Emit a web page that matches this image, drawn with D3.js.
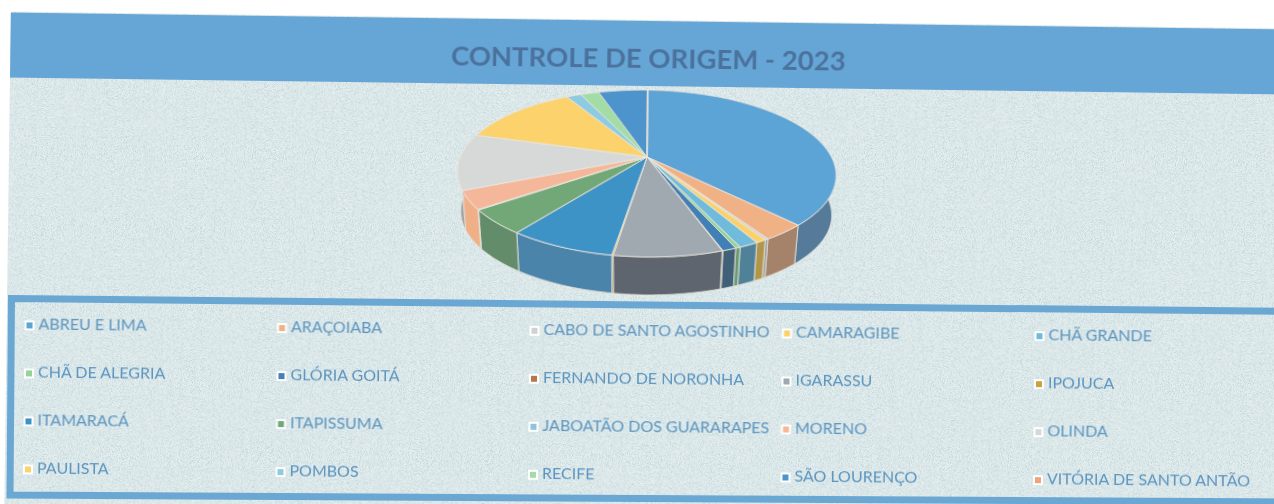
<!DOCTYPE html>
<html><head><meta charset="utf-8">
<script src="https://cdn.jsdelivr.net/npm/d3@7/dist/d3.min.js"></script>
<style>html,body{margin:0;padding:0;background:#fff;overflow:hidden}svg{display:block}</style>
</head><body><div id="chart"></div>
<script>
const titleText = "CONTROLE DE ORIGEM - 2023";
const categories = ["ABREU E LIMA","ARAÇOIABA","CABO DE SANTO AGOSTINHO","CAMARAGIBE","CHÃ GRANDE","CHÃ DE ALEGRIA","GLÓRIA GOITÁ","FERNANDO DE NORONHA","IGARASSU","IPOJUCA","ITAMARACÁ","ITAPISSUMA","JABOATÃO DOS GUARARAPES","MORENO","OLINDA","PAULISTA","POMBOS","RECIFE","SÃO LOURENÇO","VITÓRIA DE SANTO ANTÃO"];
const values = [37.6,3.2,0.25,0.75,1.4,0.35,1.0,0.05,7.7,0.1,7.6,4.7,0.1,3.5,10.9,12.4,1.5,1.9,5.05,0.05];
const colors = ["#5ca4d6","#f0b185","#cfd2d2","#fbd168","#6fbbdc","#94d49a","#3f80b5","#b7774e","#a0a8b0","#c9a43c","#3d92c6","#72a878","#8cc2e2","#f5b79a","#d7d9d8","#fbd26c","#8ccbe0","#a3dca4","#4e94cc","#e9a67a"];
const wallColors = ["#557a9a","#a5826a","#9a9c9c","#b3954a","#4f8299","#6a9a70","#3f6078","#8a5a3a","#5f656e","#9a7e30","#4b84ab","#648c6a","#6a92aa","#efb088","#a2a4a3","#bd9e52","#6a99a8","#7aa67c","#3a6f99","#ae7d5c"];
const legendColumns = 5;

const W=1274,H=504, cx=647, cy=157, tilt=0.76;
const svg=d3.select("#chart").append("svg").attr("width",W).attr("height",H);
const defs=svg.append("defs");
const blur=defs.append("filter").attr("id","soft").attr("x","-2%").attr("y","-2%").attr("width","104%").attr("height","104%");
blur.append("feGaussianBlur").attr("stdDeviation",0.6);
const noise=defs.append("filter").attr("id","grain").attr("x",0).attr("y",0).attr("width","100%").attr("height","100%");
noise.append("feTurbulence").attr("type","fractalNoise").attr("baseFrequency",1.1).attr("numOctaves",2).attr("seed",4).attr("result","n");
noise.append("feColorMatrix").attr("in","n").attr("type","matrix").attr("values","0 0 0 0 0.52  0 0 0 0 0.66  0 0 0 0 0.70  2.6 0 0 0 -1.0").attr("result","g");
noise.append("feComposite").attr("in","g").attr("in2","SourceGraphic").attr("operator","atop").attr("result","c");
noise.append("feMerge").call(m=>{m.append("feMergeNode").attr("in","SourceGraphic");m.append("feMergeNode").attr("in","c");});

const g=svg.append("g").attr("transform",`rotate(${tilt} ${cx} ${cy})`);
const page=g.append("g");
page.append("rect").attr("x",9).attr("y",20).attr("width",1320).attr("height",510).attr("fill","#e6efef").attr("filter","url(#grain)");
const upper=page.append("g").attr("filter","url(#soft)");
upper.append("rect").attr("x",9).attr("y",21).attr("width",1320).attr("height",65).attr("fill","#65a6d6");
upper.append("text").attr("x",cx).attr("y",60.5).attr("text-anchor","middle").attr("dominant-baseline","middle")
  .attr("font-family","Lato").attr("font-weight",700).attr("font-size",27.5).attr("fill","#4b719c").text(titleText);

// perspective disc: true pie angle -> screen position
const P=0.1976,A=185.6,B=80.2;
const px=a=>A*Math.sin(a)/(1+P*Math.cos(a));
const py=a=>-B*Math.cos(a)/(1+P*Math.cos(a));
const depth=40, shrink=0.98;
const pie=d3.pie().sort(null).value(d=>d)(values);
const samples=(s,e)=>{const n=Math.max(2,Math.ceil((e-s)/0.02));return d3.range(n+1).map(i=>s+(e-s)*i/n);};
const line=d3.line().x(d=>d[0]).y(d=>d[1]);
const chart=g.append("g").attr("transform",`translate(${cx},${cy})`).attr("filter","url(#soft)");
chart.selectAll("path.wall").data(pie).join("path").attr("class","wall")
  .attr("d",d=>{const a=samples(d.startAngle,d.endAngle);
    return line(a.map(t=>[px(t),py(t)]).concat(a.slice().reverse().map(t=>[px(t)*shrink,py(t)*shrink+depth])))+"Z";})
  .attr("fill",(d,i)=>wallColors[i]).attr("stroke","#e6e4da").attr("stroke-width",.8);
chart.selectAll("path.top").data(pie).join("path").attr("class","top")
  .attr("d",d=>line([[0,0]].concat(samples(d.startAngle,d.endAngle).map(t=>[px(t),py(t)])))+"Z")
  .attr("fill",(d,i)=>colors[i]).attr("stroke","#ebe9e0").attr("stroke-width",.8);

// legend frame follows the warped scan, so it sits outside the rotated group
svg.append("path").attr("d","M11.5,298.5 L1300,311.5 L1300,502 L10,495 Z").attr("fill","none")
  .attr("stroke","#6aa8d3").attr("stroke-width",7).attr("filter","url(#soft)");

// legend
const colX=d3.scalePoint().domain(d3.range(legendColumns)).range([32,1042]);
const rowY=d3.scalePoint().domain(d3.range(4)).range([332,476]);
const lg=g.append("g").attr("transform",`rotate(-0.15 ${cx} 400)`).attr("filter","url(#soft)").selectAll("g").data(categories).join("g")
  .attr("transform",(d,i)=>`translate(${colX(i%legendColumns)},${rowY(Math.floor(i/legendColumns))})`);
lg.append("rect").attr("x",-5).attr("y",-5).attr("width",10).attr("height",10).attr("fill","#fff");
lg.append("rect").attr("x",-3).attr("y",-3).attr("width",6).attr("height",6).attr("fill",(d,i)=>colors[i]);
lg.append("text").attr("x",9).attr("y",0).attr("dominant-baseline","middle").attr("font-family","Lato").attr("font-size",16).attr("fill","#5c95bf").text(d=>d);
</script></body></html>
